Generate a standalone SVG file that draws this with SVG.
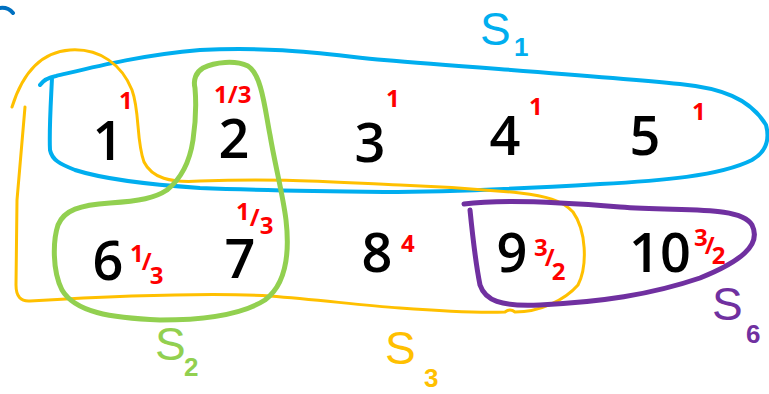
<svg xmlns="http://www.w3.org/2000/svg" width="769" height="394" viewBox="0 0 769 394">
<style>
.ln{fill:none;stroke-linecap:round;stroke-linejoin:round}
.b{stroke:#00aeef;stroke-width:4}
.o{stroke:#ffc000;stroke-width:3}
.g{stroke:#92d050;stroke-width:5}
.p{stroke:#7030a0;stroke-width:5}
.num{font-family:"Open Sans","Liberation Sans",sans-serif;font-weight:600;font-size:54px;fill:#000;text-anchor:middle}
.w{font-family:"Open Sans","Liberation Sans",sans-serif;font-weight:700;fill:#ff0000;font-size:24px}
.lab{font-family:"Liberation Sans",sans-serif;font-size:46px}
.sub{font-family:"Liberation Sans",sans-serif;font-weight:700;font-size:26px}
</style>
<rect width="769" height="394" fill="#fff"/>
<path class="ln" d="M0,8 Q8,7 13,13" stroke="#0070c0" stroke-width="4"/>
<g id="sets">
<path id="S1" class="ln b" d="M40,85 Q45,78 56,76 C90,68 140,55 200,50 C280,46 330,55 384,60 C480,68 600,76 680,84 C720,88 750,98 766,125 C770,140 766,152 752,160 C720,176 660,181 600,184 C500,190 450,192 384,192 C300,191 250,190 200,188 C140,184 100,178 75,170 C60,164 52,160 50,150 C49,130 51,100 52,78"/>
<path id="S3" class="ln o" d="M25,107 L17,200 L16,285 Q16,302 30,301 C100,297 200,292 270,296 C320,300 360,305 400,308 C440,311 480,313 505,312 Q510,308 515,312 C540,312 565,300 578,285 C588,265 586,230 573,212 C562,200 545,196 520,193 C470,188 430,186 400,185 C330,182 280,178 200,181 C170,183 152,178 144,162 C136,140 140,112 132,90 C122,65 100,48 70,50 C40,52 22,75 12,107"/>
<path id="S2" class="ln g" d="M195,88 C193,80 196,72 203,68 C215,62 235,60 248,66 C262,75 265,110 270,135 C275,165 283,195 286,220 C290,255 285,285 265,300 C240,316 200,320 160,320 C110,318 75,312 62,290 C52,270 53,240 58,225 C64,210 80,205 110,203 C140,201 155,198 167,190 C182,178 190,160 193,140 C196,120 196,100 195,88"/>
<path id="S6" class="ln p" d="M464,204 C500,199 560,202 620,207 C680,212 740,205 752,225 C762,245 740,262 700,278 C650,295 600,302 540,305 C500,307 485,300 480,285 C475,260 472,230 470,210"/>
</g>
<g id="n1"><text class="num" x="108" y="160">1</text><text class="w" x="119" y="109">1</text></g>
<g id="n2"><text class="num" x="234" y="158">2</text><text class="w" x="214" y="103" font-size="20">1/3</text></g>
<g id="n3"><text class="num" x="370" y="162">3</text><text class="w" x="386" y="107">1</text></g>
<g id="n4"><text class="num" x="505" y="155">4</text><text class="w" x="529" y="115">1</text></g>
<g id="n5"><text class="num" x="645" y="155">5</text><text class="w" x="692" y="120">1</text></g>
<g id="n6"><text class="num" x="108" y="280">6</text><text class="w" x="130" y="262">1<tspan dx="-2" dy="8">/</tspan><tspan dx="-2" dy="14">3</tspan></text></g>
<g id="n7"><text class="num" x="240" y="278">7</text><text class="w" x="236" y="220" font-size="20">1<tspan dy="6">/</tspan><tspan dy="8">3</tspan></text></g>
<g id="n8"><text class="num" x="377" y="272">8</text><text class="w" x="401" y="252" font-size="34">4</text></g>
<g id="n9"><text class="num" x="512" y="272">9</text><text class="w" x="534" y="256">3<tspan dx="-3" dy="10">/</tspan><tspan dx="-3" dy="14">2</tspan></text></g>
<g id="n10"><text class="num" x="660" y="272">10</text><text class="w" x="694" y="246">3<tspan dx="-3" dy="8">/</tspan><tspan dx="-3" dy="10">2</tspan></text></g>
<g id="labels">
<text class="lab" x="480" y="45" fill="#00aeef">S</text><text class="sub" x="514" y="56" fill="#00aeef">1</text>
<text class="lab" x="155" y="360" fill="#92d050">S</text><text class="sub" x="184" y="376" fill="#92d050">2</text>
<text class="lab" x="385" y="364" fill="#ffc000">S</text><text class="sub" x="424" y="387" fill="#ffc000">3</text>
<text class="lab" x="712" y="320" fill="#7030a0">S</text><text class="sub" x="746" y="343" fill="#7030a0">6</text>
</g>
</svg>
